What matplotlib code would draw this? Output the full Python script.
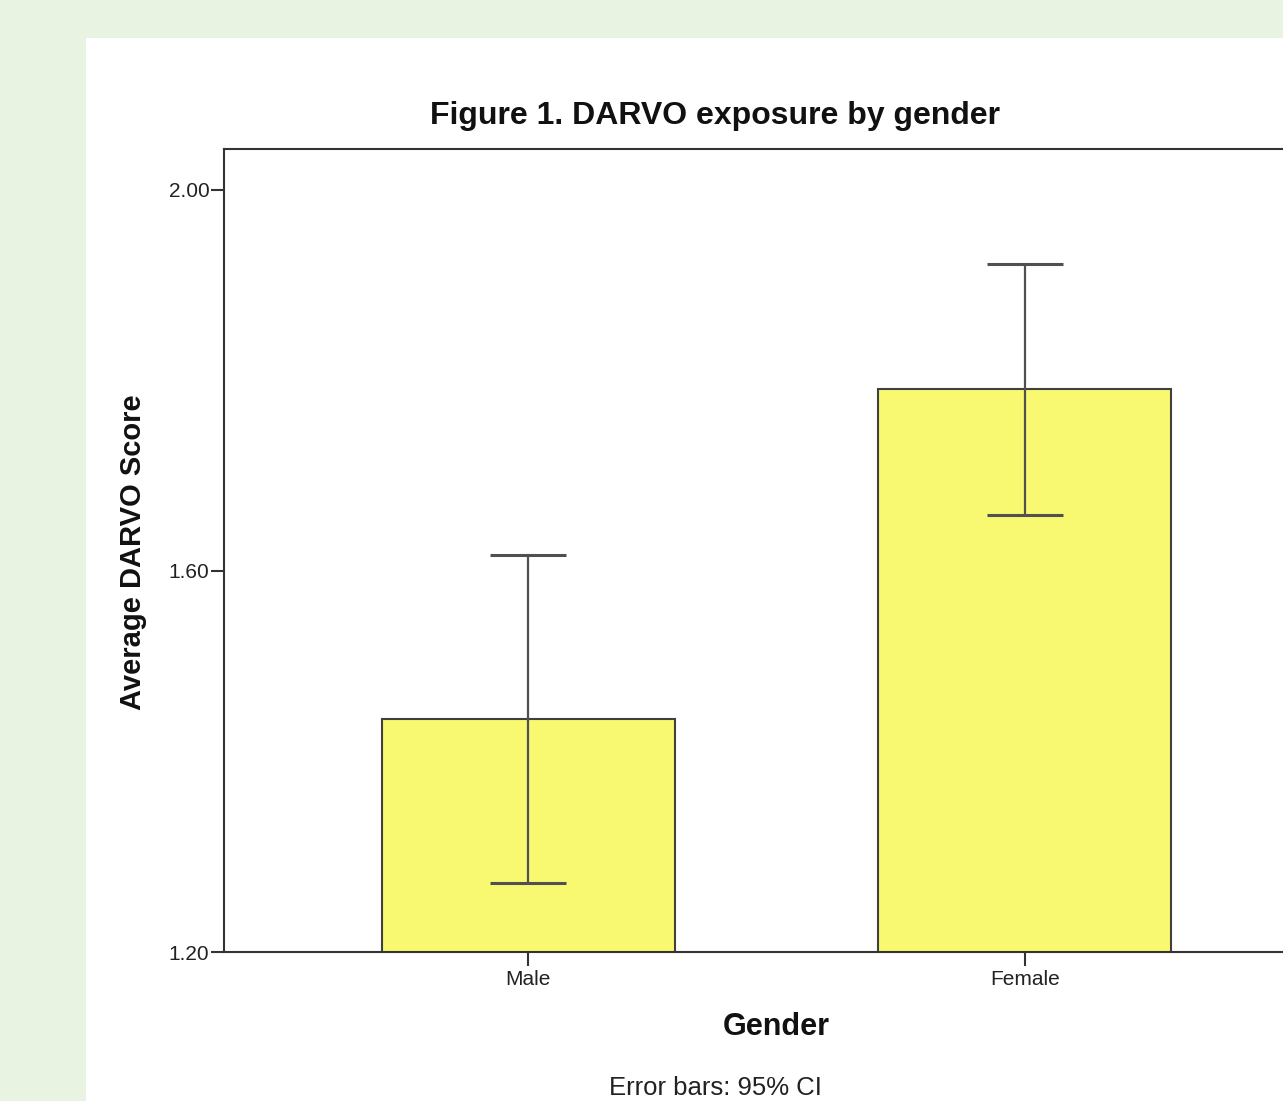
import matplotlib
matplotlib.use("Agg")
import matplotlib.pyplot as plt
from matplotlib.patches import Rectangle

categories = ["Male", "Female"]
means = [1.445, 1.791]
ci_low = [1.272, 1.659]
ci_high = [1.617, 1.922]
yticks = [1.20, 1.60, 2.00]

plt.rcParams['font.family'] = ['Liberation Sans', 'DejaVu Sans']

W, H = 1283, 1101
fig = plt.figure(figsize=(W/100, H/100), dpi=100)
fig.patch.set_facecolor('#e8f3e2')
panel = Rectangle((86/W, 0), 1, (H-38)/H, transform=fig.transFigure,
                  facecolor='white', edgecolor='none', zorder=-5)
fig.patches.append(panel)

ax = fig.add_axes([224/W, 149/H, (1329-224)/W, (952-149)/H])
ax.set_zorder(2)
ax.set_facecolor('white')
x = list(range(len(categories)))
ax.bar(x, means, width=0.59, bottom=0, color='#f9f871', edgecolor='#404040', linewidth=1.5, zorder=2)
yerr = [[m - l for m, l in zip(means, ci_low)], [h - m for m, h in zip(means, ci_high)]]
ax.errorbar(x, means, yerr=yerr, fmt='none', ecolor='#505050', elinewidth=1.6,
            capsize=27.4, capthick=2.2, zorder=3)
ax.set_ylim(1.20, 2.043)
ax.set_xlim(-0.612, 1.612)
ax.set_yticks(yticks)
ax.set_yticklabels([f"{v:.2f}" for v in yticks])
ax.set_xticks(x)
ax.set_xticklabels(categories)
ax.tick_params(axis='y', direction='out', length=9.5, width=1.5, color='#333333',
               labelsize=15, labelcolor='#222222', pad=1)
ax.tick_params(axis='x', direction='out', length=10, width=1.5, color='#333333',
               labelsize=15, labelcolor='#222222', pad=3)
for s in ['left', 'top', 'bottom', 'right']:
    ax.spines[s].set_linewidth(1.5)
    ax.spines[s].set_color('#333333')

fig.text(715/W, 1-116/H, "Figure 1. DARVO exposure by gender", ha='center', va='center',
         fontsize=23, fontweight='bold', color='#111111', zorder=5)
fig.text(133/W, 1-552/H, "Average DARVO Score", ha='center', va='center', rotation=90,
         fontsize=21, fontweight='bold', color='#111111', zorder=5)
fig.text(776/W, 1-1027/H, "Gender", ha='center', va='center',
         fontsize=22, fontweight='bold', color='#111111', zorder=5)
fig.text(715/W, 1-1088/H, "Error bars: 95% CI", ha='center', va='center',
         fontsize=18.5, color='#222222', zorder=5)

fig.savefig("out.png", dpi=100)
